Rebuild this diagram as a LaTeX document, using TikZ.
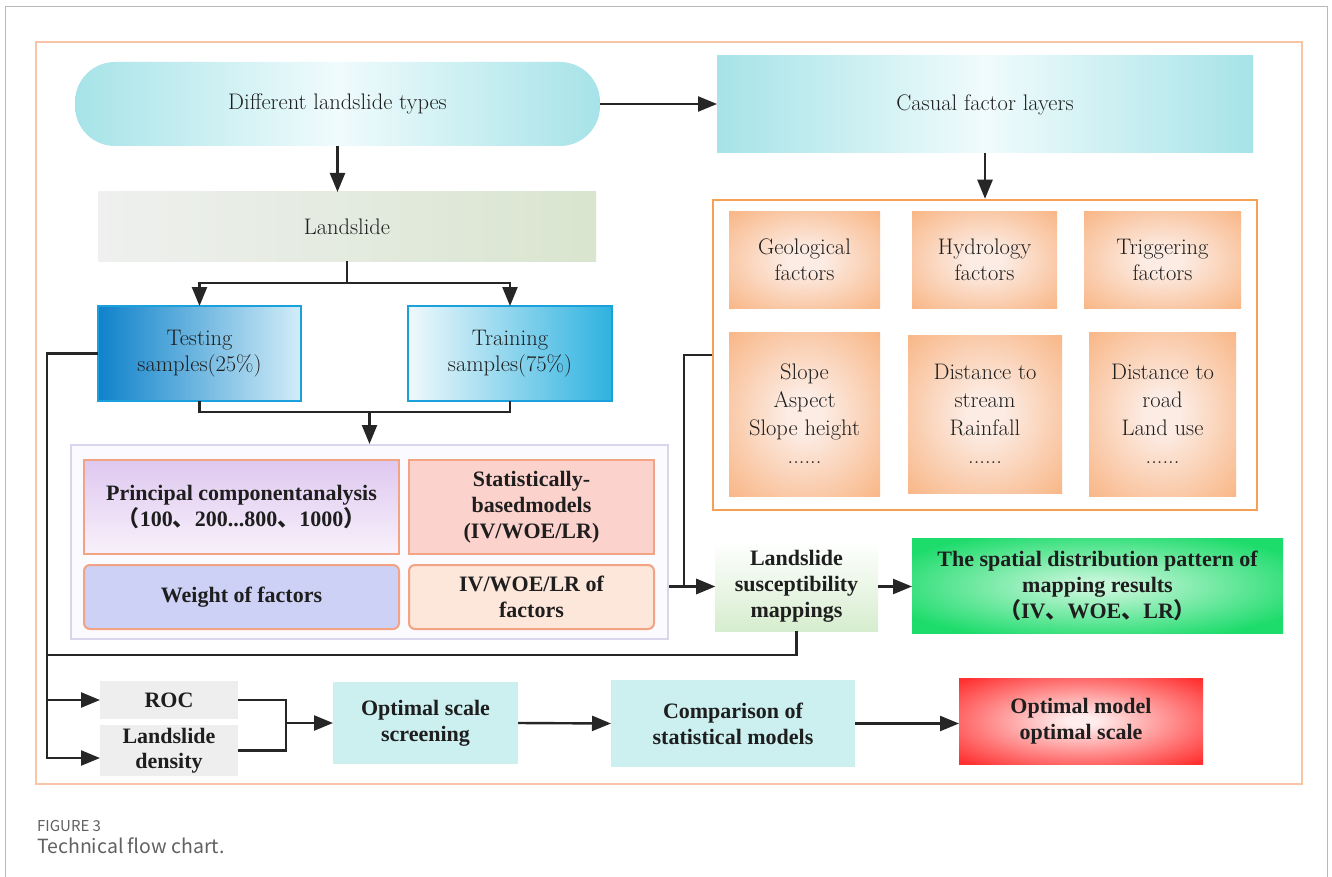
\documentclass[tikz,border=0pt]{standalone}
\usepackage{fontspec}
\newfontfamily\tb{Liberation Serif}
\newfontfamily\cjk{Noto Sans CJK SC}
\usetikzlibrary{arrows.meta,calc}
\definecolor{txt}{HTML}{1E1E1E}
\definecolor{ln}{HTML}{262626}
\definecolor{cyanE}{HTML}{A6E3E8}
\definecolor{cyanM}{HTML}{F0FBFC}
\definecolor{peachO}{HTML}{F8AE78}
\definecolor{peachI}{HTML}{FCECE4}
\definecolor{salmon}{HTML}{F2A384}
\definecolor{bluebd}{HTML}{1AA0DA}
\definecolor{lavbd}{HTML}{DAD4EC}
\definecolor{lavin}{HTML}{FBFAFE}
\definecolor{frameor}{HTML}{F8C6A6}
\definecolor{ffor}{HTML}{F6A055}
\definecolor{lcyan}{HTML}{CCF0F0}
\definecolor{lgray}{HTML}{EEEEEE}
\definecolor{lsL}{HTML}{EFF0EF}
\definecolor{lsR}{HTML}{D9E5CF}
\definecolor{tstL}{HTML}{0F82CA}
\definecolor{tstR}{HTML}{D2EDF8}
\definecolor{trnL}{HTML}{F0F9FC}
\definecolor{trnR}{HTML}{2EB2DF}
\definecolor{pcaT}{HTML}{DFC8F0}
\definecolor{pcaB}{HTML}{F8F1FB}
\definecolor{statF}{HTML}{FCD2CD}
\definecolor{wofF}{HTML}{CDD1F5}
\definecolor{ivfF}{HTML}{FDE6DA}
\definecolor{lsmB}{HTML}{D6EDCE}
\definecolor{spO}{HTML}{1EDC6C}
\definecolor{spI}{HTML}{C4F6D8}
\definecolor{redO}{HTML}{FF3030}
\definecolor{redI}{HTML}{FFEDED}
\pgfdeclareradialshading{softpeach}{\pgfpoint{0bp}{0bp}}{color(0bp)=(peachI); color(6bp)=(peachI); color(40bp)=(peachO); color(75bp)=(peachO)}
\pgfdeclareradialshading{softgreen}{\pgfpoint{0bp}{0bp}}{color(0bp)=(spI); color(3bp)=(spI); color(30bp)=(spO); color(75bp)=(spO)}
\pgfdeclareradialshading{softred}{\pgfpoint{0bp}{0bp}}{color(0bp)=(redI); color(3bp)=(redI); color(34bp)=(redO); color(75bp)=(redO)}
\newcommand\tsz{\fontsize{22.5}{26}\selectfont}
\newcommand\bsz{\tb\bfseries\fontsize{22}{26}\selectfont}
\newcommand\cj[1]{{\cjk #1}}
\begin{document}
\begin{tikzpicture}[x=1pt,y=-1pt,
  box/.style={inner sep=2pt, outer sep=0pt, align=center, text=txt, font=\tsz},
  bbox/.style={box, font=\bsz},
  factbox/.style={box, shading=softpeach},
  line/.style={draw=ln, line width=2.4pt},
  arr/.style={line, -{Triangle[length=19pt,width=15pt]}},
  sz/.style n args={2}{minimum width=#1, minimum height=#2}
]
\useasboundingbox (0,0) rectangle (1332,877);
\fill[white] (0,0) rectangle (1332,877);
\draw[black!28, line width=1pt] (5,880) -- (5,7) -- (1327,7) -- (1327,880);
\draw[frameor, line width=2pt] (36,42) rectangle (1302,784);

% top row
\node[box, sz={525}{84}, rounded corners=40pt, left color=cyanE, right color=cyanE, middle color=cyanM] (dlt) at (337.5,104) {Different landslide types};
\node[box, sz={536}{97}, left color=cyanE, right color=cyanE, middle color=cyanM] (cfl) at (985,104.5) {Casual factor layers};
\node[box, sz={498}{69}, left color=lsL, right color=lsR] (ls) at (347,226.5) {Landslide};

% samples
\node[box, sz={203}{95}, draw=bluebd, line width=2pt, left color=tstL, right color=tstR] (test) at (199.5,353.5) {Testing\\samples(25\%)};
\node[box, sz={204}{95}, draw=bluebd, line width=2pt, left color=trnL, right color=trnR] (train) at (510,353.5) {Training\\samples(75\%)};

% lavender frame
\node[draw=lavbd, line width=2pt, fill=lavin, sz={597}{194}, inner sep=0pt] (lav) at (369.5,542) {};
\node[bbox, sz={315}{94}, draw=salmon, line width=2pt, top color=pcaT, bottom color=pcaB] (pca) at (241.5,507) {Principal componentanalysis\\\cj{（}100\cj{、}200...800\cj{、}1000\cj{）}};
\node[bbox, sz={245}{94}, draw=salmon, line width=2pt, fill=statF] (stat) at (531.5,507) {Statistically-\\basedmodels\\(IV/WOE/LR)};
\node[bbox, sz={315}{64}, draw=salmon, line width=2pt, fill=wofF, rounded corners=6pt] (wof) at (241.5,597) {Weight of factors};
\node[bbox, sz={245}{64}, draw=salmon, line width=2pt, fill=ivfF, rounded corners=6pt] (ivf) at (531.5,597) {IV/WOE/LR of\\factors};

% factor frame
\node[draw=ffor, line width=2.5pt, fill=white, sz={544}{310}, inner sep=0pt] (ff) at (985,355) {};
\node[factbox, sz={151}{96}] (geo) at (804.5,260) {Geological\\factors};
\node[factbox, sz={145}{96}] (hyd) at (984.5,260) {Hydrology\\factors};
\node[factbox, sz={157}{96}] (trig) at (1162.5,260) {Triggering\\factors};
\node[factbox, sz={151}{164}, font=\fontsize{22.5}{28}\selectfont] (slope) at (804.5,414) {Slope\\Aspect\\Slope height\\......};
\node[factbox, sz={154}{158}, font=\fontsize{22.5}{28}\selectfont] (dstr) at (985,414) {Distance to\\stream\\Rainfall\\......};
\node[factbox, sz={147}{164}, font=\fontsize{22.5}{28}\selectfont] (droad) at (1162.5,414) {Distance to\\road\\Land use\\......};

% mapping
\node[bbox, sz={163}{89}, top color=white, bottom color=lsmB] (lsm) at (796.5,586.5) {Landslide\\susceptibility\\mappings};
\node[bbox, sz={371}{95}, shading=softgreen] (spat) at (1097.5,585.5) {The spatial distribution pattern of\\mapping results\\\cj{（}IV\cj{、}WOE\cj{、}LR\cj{）}};

% bottom row
\node[bbox, sz={138}{38}, fill=lgray] (roc) at (169,700) {ROC};
\node[bbox, sz={138}{51}, fill=lgray, font=\tb\bfseries\fontsize{22}{25}\selectfont] (dens) at (169,750.5) {Landslide\\density};
\node[bbox, sz={185}{82}, fill=lcyan] (oss) at (425.5,723) {Optimal scale\\screening};
\node[bbox, sz={244}{87}, fill=lcyan] (csm) at (733,723.5) {Comparison of\\statistical models};
\node[bbox, sz={244}{86}, shading=softred] (omos) at (1081,721) {Optimal model\\optimal scale};

% connectors
\draw[arr] (dlt.east) -- (cfl.west |- dlt.east);
\draw[arr] (dlt.south) -- (dlt.south |- ls.north);
\draw[arr] (ls.south) -- ++(0,22) -| (test.north);
\draw[arr] (ls.south) -- ++(0,22) -| (train.north);
\draw[line] (test.south) -- ++(0,11) -| (train.south);
\coordinate (tj) at (369.5,412);
\draw[arr] (tj) -- (lav.north);
\draw[arr] (cfl.south) -- (ff.north);

\coordinate (busx) at (47,0);
\coordinate (densin) at ($(dens.west)+(0,7.5)$);
\coordinate (bj) at (47,655);
\draw[arr] (test.west) -| (busx |- densin) -- (densin);
\draw[arr] (busx |- roc.west) -- (roc.west);
\draw[line] (lsm.south) |- (bj);

\coordinate (vj) at (684,586.5);
\draw[arr] (ff.west) -| (vj) -- (lsm.west);
\draw[arr] (lav.east |- lsm.west) -- (lsm.west);
\draw[arr] (lsm.east) -- (lsm.east -| spat.west);

\coordinate (mj) at (286,723);
\draw[line] (roc.east) -| (mj) |- (dens.east);
\draw[arr] (mj) -- (oss.west);
\draw[arr] (oss.east) -- (csm.west);
\draw[arr] (csm.east) -- (csm.east -| omos.west);

% caption
\node[anchor=base west, inner sep=0pt, font=\cjk\fontsize{15}{18}\selectfont, text=black!62] (fig) at (37,831) {FIGURE 3};
\node[anchor=base west, inner sep=0pt, font=\cjk\fontsize{19.5}{22}\selectfont, text=black!62] (cap) at (37,853) {Technical flow chart.};
\end{tikzpicture}
\end{document}
